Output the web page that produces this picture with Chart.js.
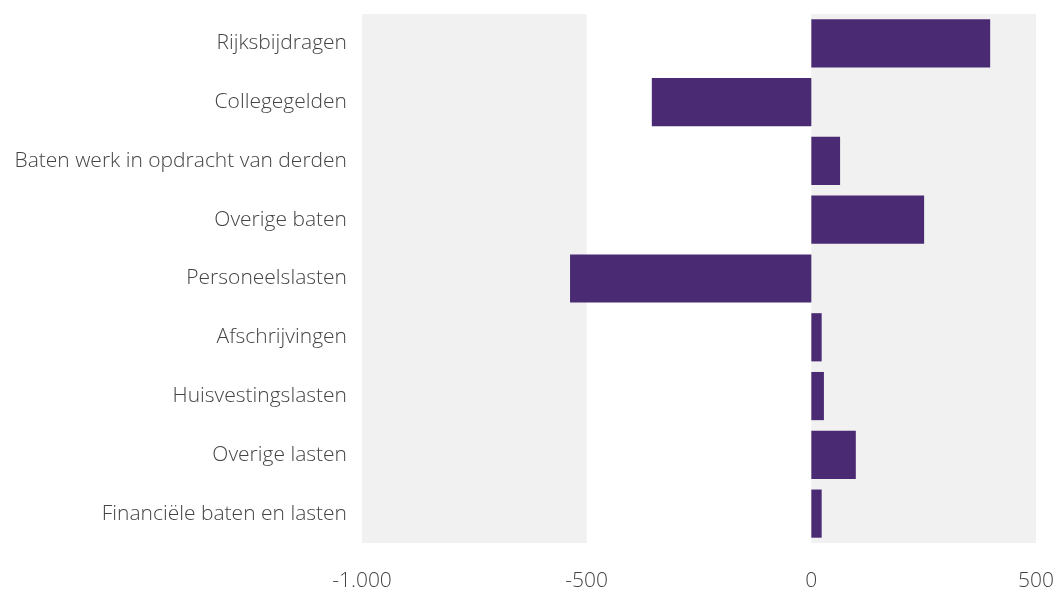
<!DOCTYPE html>
<html>
<head>
<meta charset="utf-8">
<script src="https://cdn.jsdelivr.net/npm/chart.js@4/dist/chart.umd.min.js"></script>
<style>
  html, body { margin: 0; padding: 0; background: #fff; }
  #wrap { width: 1055px; height: 590px; position: relative; }
</style>
</head>
<body>
<div id="wrap"><canvas id="myChart"></canvas></div>
<script>
const categories = [
  'Rijksbijdragen',
  'Collegegelden',
  'Baten werk in opdracht van derden',
  'Overige baten',
  'Personeelslasten',
  'Afschrijvingen',
  'Huisvestingslasten',
  'Overige lasten',
  'Financiële baten en lasten'
];
const values = [398, -355, 64, 251, -537, 23, 28, 99, 23];
const xTicks = [-1000, -500, 0, 500];

// grey bands behind every other interval on the x axis
const bands = {
  id: 'bands',
  beforeDatasetsDraw(chart) {
    const { ctx, chartArea, scales } = chart;
    const x = scales.x;
    ctx.save();
    ctx.fillStyle = '#f1f1f1';
    for (let i = 0; i < xTicks.length - 1; i += 2) {
      const a = x.getPixelForValue(xTicks[i]);
      const b = x.getPixelForValue(xTicks[i + 1]);
      ctx.fillRect(a, chartArea.top, b - a, chartArea.bottom - chartArea.top);
    }
    ctx.restore();
  }
};

function fmt(v) {
  const s = Math.abs(v).toString().replace(/\B(?=(\d{3})+(?!\d))/g, '.');
  return (v < 0 ? '-' : '') + s;
}

function noPad(s) {
  s.paddingLeft = 0; s.paddingRight = 0;
  s.paddingTop = 0; s.paddingBottom = 0;
}

const ctx = document.getElementById('myChart');
const myChart = new Chart(ctx, {
  type: 'bar',
  data: {
    labels: categories,
    datasets: [{
      data: values,
      backgroundColor: '#4a2b73',
      borderWidth: 0,
      barPercentage: 0.82,
      categoryPercentage: 1
    }]
  },
  options: {
    indexAxis: 'y',
    responsive: true,
    maintainAspectRatio: false,
    animation: false,
    layout: { padding: { top: 14, right: 19, left: 0, bottom: 0 } },
    scales: {
      x: {
        min: -1000,
        max: 500,
        grid: { display: false, drawTicks: false },
        border: { display: false },
        afterBuildTicks(s) { s.ticks = xTicks.map(v => ({ value: v })); },
        afterFit(s) { s.height = 47; noPad(s); },
        ticks: {
          padding: 25,
          color: '#444',
          maxRotation: 0,
          font: { family: 'Open Sans', size: 21, weight: 300 },
          callback: v => fmt(v)
        }
      },
      y: {
        grid: { display: false, drawTicks: false },
        border: { display: false },
        afterFit(s) { s.width = 362; noPad(s); },
        ticks: {
          padding: 15,
          color: '#444',
          font: { family: 'Open Sans', size: 21, weight: 300 }
        }
      }
    },
    plugins: {
      legend: { display: false },
      tooltip: { enabled: false }
    }
  },
  plugins: [bands]
});
</script>
</body>
</html>
